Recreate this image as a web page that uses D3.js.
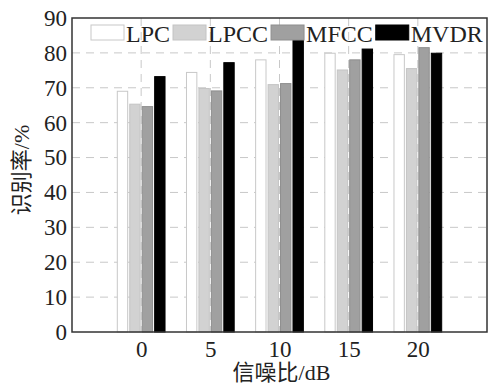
<!DOCTYPE html>
<html>
<head>
<meta charset="utf-8">
<script src="https://cdn.jsdelivr.net/npm/d3@7"></script>
<style>
  body { margin: 0; background: #fff; }
  svg text { font-family: "Liberation Serif", "Times New Roman", "Noto Sans CJK SC", serif; fill: #222; }
</style>
</head>
<body>
<div id="chart"></div>
<script>
        // data
        var snr = [0, 5, 10, 15, 20];
        var methods = ["LPC", "LPCC", "MFCC", "MVDR"];
        var lpc  = [69.0, 74.4, 78.0, 79.9, 79.5];
        var lpcc = [65.3, 69.8, 70.9, 75.1, 75.5];
        var mfcc = [64.6, 69.1, 71.2, 78.0, 81.5];
        var mvdr = [73.2, 77.2, 83.7, 81.1, 79.9];
        var yTicks = [0, 10, 20, 30, 40, 50, 60, 70, 80, 90];

        var seriesVals = [lpc, lpcc, mfcc, mvdr];
        var fills = ["#ffffff", "#d2d2d2", "#a0a0a0", "#000000"];
        var strokes = ["#c8c8c8", "#c4c4c4", "#8e8e8e", "#000000"];

        var fullW = 488, fullH = 385;
        var margin = {top: 18, right: 1, bottom: 53, left: 72};
        var width = fullW - margin.left - margin.right;
        var height = fullH - margin.top - margin.bottom;

        var svg = d3.select("#chart")
                    .append("svg")
                    .attr("width", fullW)
                    .attr("height", fullH);

        var g = svg.append("g")
                    .attr("transform", "translate(" + margin.left + "," + margin.top + ")");

        var x = d3.scaleLinear().domain([-5, 25]).range([0, width]);
        var y = d3.scaleLinear().domain([0, 90]).range([height, 0]);

        var step = 0.9, barW = 0.75;   // in dB units

        // grid
        g.append("g").selectAll("line.hg")
            .data(yTicks.slice(1, -1))
            .enter().append("line")
            .attr("x1", 0).attr("x2", width)
            .attr("y1", function(d) { return y(d); })
            .attr("y2", function(d) { return y(d); })
            .attr("stroke", "#c8c8c8")
            .attr("stroke-dasharray", "8,6");

        g.append("g").selectAll("line.vg")
            .data(snr)
            .enter().append("line")
            .attr("y1", 0).attr("y2", height)
            .attr("x1", function(d) { return x(d); })
            .attr("x2", function(d) { return x(d); })
            .attr("stroke", "#c8c8c8")
            .attr("stroke-dasharray", "8,6");

        // bars
        seriesVals.forEach(function(vals, i) {
            g.append("g")
                .selectAll("rect")
                .data(vals)
                .enter().append("rect")
                .attr("x", function(d, j) { return x(snr[j] + (i - 1.5) * step - barW / 2); })
                .attr("width", x(barW) - x(0))
                .attr("y", function(d) { return y(d); })
                .attr("height", function(d) { return height - y(d); })
                .attr("fill", fills[i])
                .attr("stroke", strokes[i])
                .attr("stroke-width", 1);
        });

        // axes
        var xAxis = d3.axisBottom(x).tickValues(snr).tickSize(0).tickPadding(9);
        var yAxis = d3.axisLeft(y).tickValues(yTicks).tickSize(0).tickPadding(5);

        var gx = g.append("g")
            .attr("transform", "translate(0," + height + ")")
            .call(xAxis);
        gx.select(".domain").remove();
        gx.selectAll("text").style("font-size", "23px");

        var gy = g.append("g").call(yAxis);
        gy.select(".domain").remove();
        gy.selectAll("text").style("font-size", "23px");

        // frame
        g.append("rect")
            .attr("width", width).attr("height", height)
            .attr("fill", "none")
            .attr("stroke", "#333")
            .attr("stroke-width", 1.5);

        // legend
        var lx = 19;
        var legend = g.append("g").attr("transform", "translate(0,7)");
        methods.forEach(function(m, i) {
            legend.append("rect")
                .attr("x", lx).attr("y", 0)
                .attr("width", 33).attr("height", 15)
                .attr("fill", fills[i])
                .attr("stroke", strokes[i]);
            var t = legend.append("text")
                .attr("x", lx + 35).attr("y", 17)
                .style("font-size", "24px")
                .text(m);
            lx += 35 + t.node().getComputedTextLength() + 3;
        });

        // titles
        svg.append("text")
            .attr("x", margin.left + width / 2 + 2)
            .attr("y", 380)
            .style("text-anchor", "middle")
            .style("font-size", "22px")
            .text("信噪比/dB");

        svg.append("text")
            .attr("transform", "translate(29," + 170 + ") rotate(-90)")
            .style("text-anchor", "middle")
            .style("font-size", "22px")
            .text("识别率/%");
</script>
</body>
</html>
